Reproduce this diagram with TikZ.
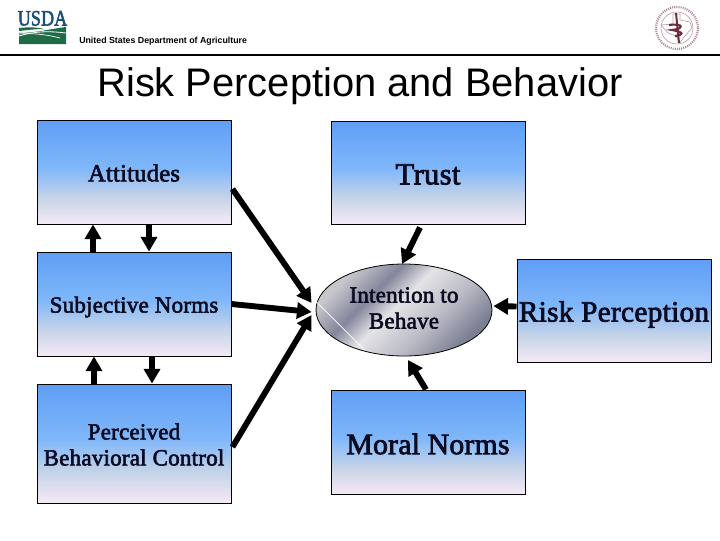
\documentclass[tikz,border=0pt]{standalone}
\usepackage{fontspec}
\setmainfont{Liberation Serif}
\newfontfamily\sansf{Liberation Sans}
\newfontfamily\fbf[FakeBold=2.5,LetterSpace=1]{Liberation Serif}
\newcommand{\tshift}[2]{\raisebox{#1}[\height][\depth]{#2}}
\usetikzlibrary{arrows.meta,shapes.geometric}
\definecolor{inkc}{HTML}{0A0A20}
\definecolor{usdablue}{HTML}{1B4F7C}
\definecolor{usdagreen}{HTML}{1F6B48}
\definecolor{sealc}{HTML}{6E2B3C}
\definecolor{sb}{HTML}{5F9EF5}\definecolor{sm}{HTML}{7FB7FA}\definecolor{sl}{HTML}{C5D3E8}\definecolor{sp}{HTML}{F6E9F5}
\pgfdeclareverticalshading{boxgradb}{100bp}{
  color(0bp)=(sp);color(25bp)=(sp);color(38bp)=(sl);color(52bp)=(sm);color(75bp)=(sb);color(100bp)=(sb)}
\definecolor{mdk}{HTML}{83869C}\definecolor{mlt}{HTML}{E4E4E6}\definecolor{mmd}{HTML}{B8B9C4}\definecolor{mgr}{HTML}{C6C6CC}\definecolor{mdd}{HTML}{7D8094}
\pgfdeclarehorizontalshading{metal}{100bp}{
  color(0bp)=(mgr);color(34bp)=(mgr);color(41.75bp)=(mdk);color(48bp)=(mlt);color(57.5bp)=(mmd);color(66bp)=(mdd);color(100bp)=(mdd)}
\tikzset{
  px/.style={x=0.75pt,y=-0.75pt},
  boxn/.style={draw=black,line width=0.7pt,shading=boxgradb,minimum width=145.5pt,inner sep=0pt,align=center,text=inkc,font=\fontsize{17.25}{19.5}\fbf},
  bigt/.style={font=\fontsize{22}{25}\fbf},
  arr/.style={line width=4.4pt,-{Triangle[length=11pt,width=12pt]},black},
}
\begin{document}
\begin{tikzpicture}[px]
\useasboundingbox (0,0) rectangle (720,540);
\fill[white] (0,0) rectangle (720,540);
% header
\coordinate (ruleL) at (0,55);\coordinate (ruleR) at (720,55);
\draw[line width=1pt] (ruleL) -- (ruleR);
% USDA logo
\node[anchor=base,inner sep=0pt,text=usdablue,xscale=0.9,yscale=1.1,font=\fontsize{15}{16}\fbf] (usda) at (42.5,25.5) {USDA};
\fill[usdagreen] (19,33) .. controls (35,33) and (50,29) .. (66,27) -- (66,44) -- (19,44) -- cycle;
\fill[usdagreen] (19,28) .. controls (28,27) and (36,27) .. (44,29) .. controls (36,29) and (28,30) .. (19,31) -- cycle;
\draw[white,line width=0.6pt] (19,36) .. controls (35,31) and (50,31) .. (66,33);
\draw[white,line width=0.5pt] (19,34) .. controls (30,33) and (45,34) .. (60,38);
\node[anchor=base west,inner sep=0pt,font=\sansf\bfseries\fontsize{6.6}{8}\selectfont] (usdat) at (79,43.5) {United States Department of Agriculture};
% seal
\draw[sealc!55!white,line width=1.6pt,dash pattern=on 0.8pt off 0.8pt] (677,28) circle (21);
\draw[sealc!50!white,line width=0.4pt] (677,28) circle (16);
\draw[sealc!45!white,line width=0.5pt] (673,14) -- (673,24) -- (661,25) -- (668,33) -- (676,36) -- (680,43) -- (684,37) -- (692,28) -- (690,22) -- (680,20) -- (680,14) -- cycle;
\draw[sealc,line width=1.5pt] (676,13) -- (679,43);
\draw[sealc,line width=1.6pt] (669,25) .. controls (684,23) and (684,29) .. (672,30) .. controls (684,32) and (684,35) .. (675,36);
% title
\node[anchor=base,inner sep=0pt,font=\sansf\fontsize{29.9}{32}\selectfont] (title) at (360,96) {Risk Perception and Behavior};
% boxes
\node[boxn,minimum height=78pt,font=\fontsize{18.4}{20}\fbf] (att) at (134,172) {\tshift{-0.75pt}{Attitudes}};
\node[boxn,bigt,minimum height=77.25pt,font=\fontsize{23}{25}\fbf] (tru) at (428,172.5) {\tshift{-1.5pt}{Trust}};
\node[boxn,minimum height=78pt] (sub) at (134,304) {\tshift{-2.25pt}{Subjective Norms}};
\node[boxn,minimum height=89.25pt] (pbc) at (134,443.5) {\tshift{-0.75pt}{Perceived}\\\tshift{-0.75pt}{Behavioral Control}};
\node[boxn,bigt,minimum height=78pt,font=\fontsize{22.2}{25}\fbf] (mor) at (428,442) {\tshift{-1.5pt}{Moral Norms}};
\node[boxn,bigt,minimum height=77.25pt] (ris) at (614,310.5) {\tshift{-3pt}{Risk Perception}};
% ellipse
\begin{scope}
\path[clip] (404,310) ellipse (88 and 46);
\shade[shading=metal,shading angle=-45] (304,210) rectangle (504,410);
\end{scope}
\node[ellipse,draw=black,line width=0.6pt,minimum width=132pt,minimum height=69pt,inner sep=0pt,align=center,text=inkc,font=\fontsize{17.25}{19.5}\fbf] (int) at (404,310) {\tshift{1.5pt}{Intention to}\\\tshift{1.5pt}{Behave}};
\draw[white,line width=0.5pt] ([shift={(1,-8)}]int.west) -- ([shift={(49,40)}]int.west);
% connectors
\draw[arr] ([shift={(-41,0)}]sub.north) -- ([shift={(-41,0)}]att.south);
\draw[arr] ([shift={(15,0)}]att.south) -- ([shift={(15,0)}]sub.north);
\draw[arr] ([shift={(-40,0)}]pbc.north) -- ([shift={(-40,0)}]sub.south);
\draw[arr] ([shift={(18,0)}]sub.south) -- ([shift={(18,0)}]pbc.north);
\draw[arr] ([shift={(1,17)}]att.east) -- ([shift={(-4,-7)}]int.west);
\draw[arr] (sub.east) -- ([shift={(-4,2)}]int.west);
\draw[arr] ([shift={(1,3.5)}]pbc.east) -- ([shift={(-4,5)}]int.west);
\draw[arr] ([shift={(-8,3)}]tru.south) -- ([shift={(-2,-46)}]int.center);
\draw[arr] ([shift={(-2,0)}]mor.north) -- ([shift={(4,50)}]int.center);
\draw[arr] ([shift={(0,-4)}]ris.west) -- ([shift={(1,-4)}]int.east);
\end{tikzpicture}
\end{document}
